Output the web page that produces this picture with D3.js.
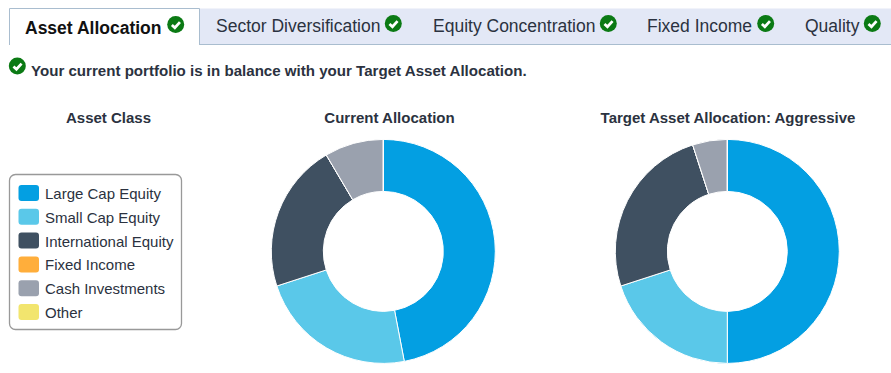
<!DOCTYPE html>
<html>
<head>
<meta charset="utf-8">
<script src="https://cdnjs.cloudflare.com/ajax/libs/d3/7.8.5/d3.min.js"></script>
<style>
  html, body { margin: 0; padding: 0; background: #fff; }
  text { font-family: "Liberation Sans", Arial, sans-serif; fill: #2b3240; }
</style>
</head>
<body>
<div id="main"></div>
<script>
const tabs = ["Asset Allocation", "Sector Diversification", "Equity Concentration", "Fixed Income", "Quality"];
const assetClasses = ["Large Cap Equity", "Small Cap Equity", "International Equity", "Fixed Income", "Cash Investments", "Other"];
const classColors = ["#039fe2", "#5ac8e9", "#3f5061", "#ffae3b", "#9aa1ae", "#f2e56e"];
const currentValues = [47, 23, 21.5, 0, 8.5, 0];
const targetValues = [50, 20, 25, 0, 5, 0];

const width = 891, height = 373;
const svg = d3.select("#main").append("svg")
  .attr("width", width).attr("height", height)
  .style("display", "block");

// tab strip
const tabLabelX = [25, 216, 433, 647, 805];
const tabIconX = [175.7, 393.3, 608.3, 765.7, 872.3];
svg.append("rect").attr("x", 199).attr("y", 8.5).attr("width", 692).attr("height", 36)
  .attr("fill", "#e3e8f6");
svg.append("line").attr("x1", 199).attr("x2", 891).attr("y1", 44.5).attr("y2", 44.5)
  .attr("stroke", "#a9bdcf").attr("stroke-width", 1);
svg.append("path").attr("d", "M9.5,45V8.5H199.5V45")
  .attr("fill", "#fff").attr("stroke", "#a9bdcf");

function check(x, y, r) {
  const g = svg.append("g").attr("transform", `translate(${x},${y})`);
  g.append("circle").attr("r", r).attr("fill", "#0b7a14");
  g.append("path")
    .attr("d", `M${-r * 0.45},${r * 0.05}L${-r * 0.1},${r * 0.38}L${r * 0.5},${-r * 0.28}`)
    .attr("fill", "none").attr("stroke", "#fff").attr("stroke-width", r * 0.32);
}

svg.selectAll(".tab").data(tabs).enter().append("text")
  .attr("class", "tab")
  .attr("x", (d, i) => tabLabelX[i])
  .attr("y", (d, i) => i == 0 ? 34 : 32)
  .style("font-size", "17.5px")
  .style("font-weight", (d, i) => i == 0 ? "bold" : "normal")
  .style("fill", (d, i) => i == 0 ? "#111" : "#2b3240")
  .text(d => d);
tabIconX.forEach((x, i) => check(x, i == 0 ? 24.5 : 23.5, 8.5));

// status line
check(17.3, 66, 8.5);
svg.append("text").attr("x", 31).attr("y", 75.5)
  .style("font-size", "15.1px").style("font-weight", "bold")
  .text("Your current portfolio is in balance with your Target Asset Allocation.");

// column headings
const headings = [["Asset Class", 108.5], ["Current Allocation", 389.5], ["Target Asset Allocation: Aggressive", 728]];
svg.selectAll(".heading").data(headings).enter().append("text")
  .attr("class", "heading")
  .attr("x", d => d[1]).attr("y", 123)
  .attr("text-anchor", "middle")
  .style("font-size", "15px").style("font-weight", "bold")
  .text(d => d[0]);

// legend
svg.append("rect").attr("x", 9.5).attr("y", 174.5).attr("width", 172).attr("height", 155)
  .attr("rx", 6).attr("fill", "#fff").attr("stroke", "#999").attr("stroke-width", 1.3);
const legendY = d3.scalePoint().domain(assetClasses).range([193, 312]);
const legend = svg.selectAll(".legend").data(assetClasses).enter().append("g").attr("class", "legend");
legend.append("rect")
  .attr("x", 18.5).attr("y", d => legendY(d) - 8)
  .attr("width", 20.5).attr("height", 16).attr("rx", 3)
  .attr("fill", (d, i) => classColors[i]);
legend.append("text")
  .attr("x", 45).attr("y", d => legendY(d) + 6)
  .style("font-size", "15px")
  .text(d => d);

// donuts
const pie = d3.pie().sort(null);
const arc = d3.arc().innerRadius(60).outerRadius(112);

function donut(values, cx, cy) {
  svg.append("g").attr("transform", `translate(${cx},${cy})`)
    .selectAll("path").data(pie(values)).enter().append("path")
    .attr("d", arc)
    .attr("fill", (d, i) => classColors[i])
    .attr("stroke", "#fff").attr("stroke-width", 1);
}
donut(currentValues, 383.3, 251.4);
donut(targetValues, 727.3, 251.4);
</script>
</body>
</html>
